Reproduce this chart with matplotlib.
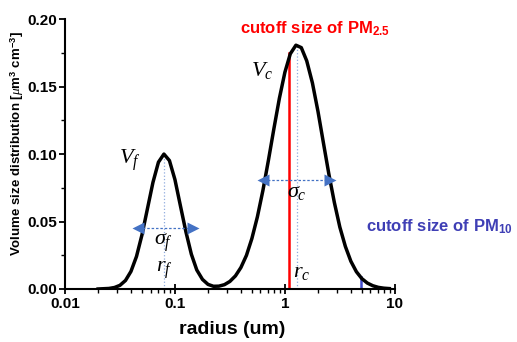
import numpy as np
import matplotlib
matplotlib.use('Agg')
import matplotlib.pyplot as plt

plt.rcParams['font.family'] = ['Liberation Sans', 'DejaVu Sans']
plt.rcParams['mathtext.fontset'] = 'custom'
plt.rcParams['mathtext.rm'] = 'Liberation Sans'
plt.rcParams['mathtext.bf'] = 'Liberation Sans:bold'
plt.rcParams['mathtext.it'] = 'Liberation Serif:italic'

# bimodal volume size distribution
radius = [0.02, 0.0251, 0.0282, 0.0316, 0.0355, 0.0398, 0.0447, 0.0501, 0.0562, 0.0631,
          0.0708, 0.0794, 0.0891, 0.1, 0.112, 0.126, 0.141, 0.158, 0.178, 0.2,
          0.224, 0.251, 0.282, 0.316, 0.355, 0.398, 0.447, 0.501, 0.562, 0.631,
          0.708, 0.794, 0.891, 1.0, 1.12, 1.26, 1.41, 1.58, 1.78, 2.0,
          2.24, 2.51, 2.82, 3.16, 3.55, 3.98, 4.47, 5.01, 5.62, 6.31,
          7.08, 7.94, 8.91]
volume = [0.0000, 0.0004, 0.0011, 0.0027, 0.0063, 0.0130, 0.0241, 0.0400, 0.0594, 0.0790,
          0.0940, 0.1000, 0.0952, 0.0811, 0.0619, 0.0422, 0.0258, 0.0141, 0.0071, 0.0034,
          0.0020, 0.0021, 0.0032, 0.0056, 0.0097, 0.0159, 0.0249, 0.0374, 0.0534, 0.0730,
          0.0953, 0.1187, 0.1413, 0.1606, 0.1743, 0.1807, 0.1789, 0.1691, 0.1527, 0.1316,
          0.1084, 0.0853, 0.0640, 0.0459, 0.0315, 0.0206, 0.0128, 0.0077, 0.0044, 0.0024,
          0.0012, 0.0006, 0.0003]

r_fine, v_fine = 0.08, 0.10
r_coarse, v_coarse = 1.3, 0.18
sigma_fine = [0.046, 0.146, 0.045]     # x0, x1, y
sigma_coarse = [0.63, 2.55, 0.081]
pm25_cut, pm25_top = 1.1, 0.175
pm10_cut, pm10_top = 4.9, 0.009

fig = plt.figure(figsize=(5.17, 3.42), dpi=100)
ax = fig.add_axes([0.1257, 0.155, 0.638, 0.789])

# guide lines
ax.plot([r_fine, r_fine], [0, v_fine], ls=':', lw=0.9, color='#8eaade', zorder=1)
ax.plot([r_coarse, r_coarse], [0, v_coarse], ls=':', lw=0.9, color='#8eaade', zorder=1)

ax.plot(radius, volume, color='black', lw=2.5, zorder=3)

ax.plot([pm25_cut, pm25_cut], [0, pm25_top], color='#ff0000', lw=1.8, zorder=2)
ax.plot([pm10_cut, pm10_cut], [0, pm10_top], color='#3f48cc', lw=1.8, zorder=2)

for x0, x1, y in [sigma_fine, sigma_coarse]:
    ax.plot([x0, x1], [y, y], ls=(0, (2, 1.5)), lw=0.9, color='#4472c4', zorder=4)
    ax.plot([x0], [y], marker='<', ms=8, color='#4472c4', mec='none', zorder=4)
    ax.plot([x1], [y], marker='>', ms=8, color='#4472c4', mec='none', zorder=4)

mfs = 16
ax.text(0.039, 0.0955, r'$V_f$', fontsize=mfs, ha='center', va='center')
ax.text(0.0795, 0.034, r'$\sigma_f$', fontsize=mfs, ha='center', va='center')
ax.text(0.0795, 0.014, r'$r_f$', fontsize=mfs, ha='center', va='center')
ax.text(0.62, 0.162, r'$V_c$', fontsize=mfs, ha='center', va='center')
ax.text(1.29, 0.072, r'$\sigma_c$', fontsize=mfs, ha='center', va='center')
ax.text(1.43, 0.0126, r'$r_c$', fontsize=mfs, ha='center', va='center')

ax.text(1.87, 0.193, r'cutoff size of PM$_{\mathbf{2.5}}$', color='#ff0000',
        fontsize=12, fontweight='bold', ha='center', va='center')
ax.text(5.45, 0.046, r'cutoff size of PM$_{\mathbf{10}}$', color='#3f3fb5',
        fontsize=12, fontweight='bold', ha='left', va='center', clip_on=False)

ax.set_xscale('log')
ax.set_xlim(0.01, 10)
ax.set_ylim(0, 0.20)
ax.set_yticks([0, 0.05, 0.10, 0.15, 0.20])
ax.set_yticklabels(['0.00', '0.05', '0.10', '0.15', '0.20'])
ax.set_yticks([0.025, 0.075, 0.125, 0.175], minor=True)
ax.set_xticks([0.01, 0.1, 1, 10])
ax.set_xticklabels(['0.01', '0.1', '1', '10'])

for s in ['top', 'right']:
    ax.spines[s].set_visible(False)
for s in ['left', 'bottom']:
    ax.spines[s].set_linewidth(1.5)

ax.tick_params(axis='x', which='major', direction='inout', length=7, width=1.3, labelsize=11, pad=2)
ax.tick_params(axis='x', which='minor', direction='out', length=3, width=1.0)
ax.tick_params(axis='y', which='major', direction='out', length=4, width=1.3, labelsize=11, pad=2)
ax.tick_params(axis='y', which='minor', direction='out', length=3, width=1.0)
for lab in ax.get_xticklabels() + ax.get_yticklabels():
    lab.set_fontweight('bold')

ax.set_xlabel('radius (um)', fontsize=14, fontweight='bold')
ax.xaxis.set_label_coords(0.506, -0.12)
ax.set_ylabel(r'Volume size distribution [$\mu$m$^{\mathbf{3}}$ cm$^{\mathbf{-3}}$]',
              fontsize=9.5, fontweight='bold')
ax.yaxis.set_label_coords(-0.118, 0.54)

fig.savefig('out.png', dpi=100)
